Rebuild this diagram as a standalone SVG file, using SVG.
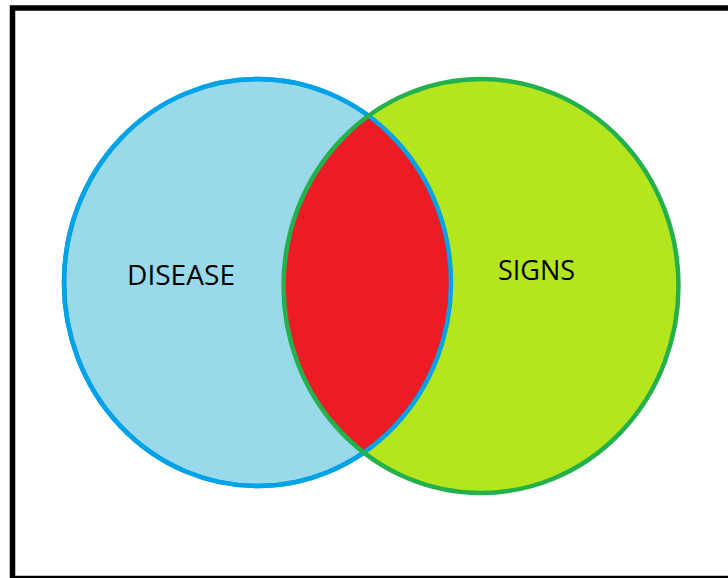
<svg xmlns="http://www.w3.org/2000/svg" width="728" height="578" viewBox="0 0 728 578">
  <style>
    .lbl { font-family: "Open Sans", "Liberation Sans", Arial, sans-serif; font-size: 26.5px; fill: #000; }
  </style>
  <defs>
    <clipPath id="clipBlue">
      <ellipse cx="257.5" cy="282.5" rx="193.5" ry="203.5"/>
    </clipPath>
  </defs>
  <rect x="0" y="0" width="728" height="578" fill="#fff"/>
  <rect id="frame" x="12.5" y="8" width="800" height="570.5" fill="none" stroke="#000" stroke-width="5.5"/>
  <g id="disease">
    <ellipse cx="257.5" cy="282.5" rx="193.5" ry="203.5" fill="#99d9ea" stroke="#00a2e8" stroke-width="4.5"/>
  </g>
  <g id="signs">
    <ellipse cx="481" cy="286" rx="197.5" ry="207" fill="#b5e61d"/>
  </g>
  <g id="overlap">
    <ellipse cx="481" cy="286" rx="197.5" ry="207" fill="#ed1c24" clip-path="url(#clipBlue)"/>
    <ellipse cx="257.5" cy="282.5" rx="193.5" ry="203.5" fill="none" stroke="#00a2e8" stroke-width="4.5"/>
    <ellipse cx="481" cy="286" rx="197.5" ry="207" fill="none" stroke="#22b14c" stroke-width="4.5"/>
  </g>
  <g id="labels">
    <text class="lbl" x="127" y="284.5" textLength="108" lengthAdjust="spacingAndGlyphs">DISEASE</text>
    <text class="lbl" x="498" y="280" textLength="77" lengthAdjust="spacingAndGlyphs">SIGNS</text>
  </g>
</svg>
